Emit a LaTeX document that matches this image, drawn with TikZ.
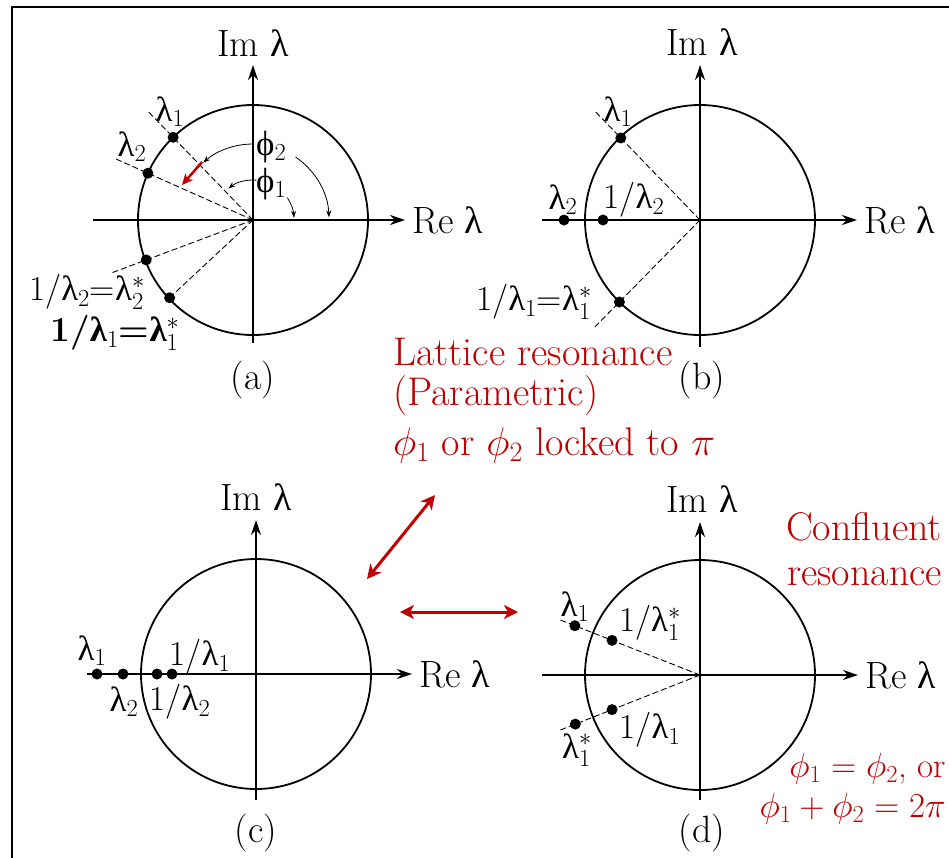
\RequirePackage{fix-cm}
\documentclass[tikz,border=0pt]{standalone}
\usepackage{fontspec}
\usetikzlibrary{arrows.meta}
\newfontfamily\grk{Liberation Serif}
\newcommand\glam{{\grk λ}}
\newcommand\gphi{{\grk ϕ}}
\definecolor{dred}{RGB}{192,0,0}
\begin{document}
\begin{tikzpicture}[x=1pt,y=-1pt,
  lbl/.style={font=\fontsize{35}{39}\selectfont, inner sep=0pt},
  axl/.style={font=\fontsize{38}{42}\selectfont, inner sep=0pt},
  rtxt/.style={font=\fontsize{40}{44}\selectfont, text=dred, inner sep=0pt, anchor=base west},
  reqn/.style={font=\fontsize{35}{39}\selectfont, text=dred, inner sep=0pt, anchor=base east},
  dot/.style={circle, fill=black, minimum size=11pt, inner sep=0pt},
  axis/.style={line width=1.4pt, -{Stealth[length=15pt,width=10pt]}},
  ucirc/.style={line width=1.8pt},
  ray/.style={line width=0.9pt, dash pattern=on 6pt off 3pt},
  redarr/.style={dred, line width=3pt, {Stealth[length=14pt,width=14pt,inset=4pt]}-{Stealth[length=14pt,width=14pt,inset=4pt]}},
  redone/.style={dred, line width=2.5pt, -{Stealth[length=11pt,width=10pt,inset=3pt]}},
  angarr/.style={line width=0.8pt, -{Stealth[length=7pt,width=5pt]}},
]
\useasboundingbox (0,0) rectangle (949,857);
\clip (0,0) rectangle (949,857);
\draw[line width=2pt] (12,7) rectangle (1000,900);

% ---------- panel (a)
\begin{scope}[shift={(253,220)}, y=1pt]
  \coordinate (aO) at (0,0);
  \coordinate (aW) at (-160,0); \coordinate (aE) at (152,0);
  \coordinate (aS) at (0,-123); \coordinate (aN) at (0,155);
  \draw[ucirc] (aO) circle (115);
  \draw[axis] (aW) -- (aE);
  \draw[axis] (aS) -- (aN);
  \node[axl, anchor=west] (aRe) at ([xshift=7pt]aE) {Re \glam};
  \node[axl] (aIm) at (0,177) {Im \glam};
  \coordinate (a1e) at (134:150);
  \coordinate (a2e) at (156:153);
  \coordinate (a2se) at (-159.5:152);
  \draw[ray] (aO) -- (a1e);
  \draw[ray] (aO) -- (a2e);
  \draw[ray] (aO) -- (a2se);
  \node[dot] (al1) at (134:115) {};
  \node[dot] (al2) at (156:115) {};
  \node[dot] (al2s) at (-159.5:114) {};
  \node[dot] (al1s) at (-137:114) {};
  \draw[ray] (aO) -- (al1s);
  \node[lbl] (tal1) at (-83,108) {\glam$_1$};
  \node[lbl] (tal2) at (-121,73) {\glam$_2$};
  \node[lbl] (tal2s) at (-166,-72) {1/\glam$_2$=\glam$^*_2$};
  \node[lbl] (tal1s) at (-138,-113) {\bfseries 1/{\grk\bfseries λ}$_1$=\glam$^*_1$};
  \node[lbl, anchor=west] (tphi2) at (3,73) {\gphi$_2$};
  \node[lbl, anchor=west] (tphi1) at (3,36) {\gphi$_1$};
  \draw[angarr] (89:76) arc (89:131:76);
  \draw[angarr] (56:76) arc (56:2:76);
  \draw[angarr] (85:40) arc (85:128:40);
  \draw[angarr] (33:41) arc (33:3:41);
  \coordinate (ra1) at (-51,58); \coordinate (ra2) at (-71,35);
  \draw[redone] (ra1) -- (ra2);
  \node[axl] (capa) at (0,-160) {(a)};
\end{scope}

% ---------- panel (b)
\begin{scope}[shift={(700,220)}, y=1pt]
  \coordinate (bO) at (0,0);
  \coordinate (bW) at (-158,0); \coordinate (bE) at (157,0);
  \coordinate (bS) at (0,-127); \coordinate (bN) at (0,155);
  \draw[ucirc] (bO) circle (115);
  \draw[axis] (bW) -- (bE);
  \draw[axis] (bS) -- (bN);
  \node[axl, anchor=west] (bRe) at ([xshift=7pt]bE) {Re \glam};
  \node[axl] (bIm) at (2,178) {Im \glam};
  \coordinate (b1e) at (134:151);
  \coordinate (b1se) at (-134.5:151);
  \draw[ray] (bO) -- (b1e);
  \draw[ray] (bO) -- (b1se);
  \node[dot] (bl1) at (134:114) {};
  \node[dot] (bl1s) at (-134.5:115) {};
  \node[dot] (bl2) at (-136,0) {};
  \node[dot] (bl2i) at (-97,0) {};
  \node[lbl] (tbl1) at (-82,108) {\glam$_1$};
  \node[lbl] (tbl2) at (-137,20) {\glam$_2$};
  \node[lbl] (tbl2i) at (-66,20) {1/\glam$_2$};
  \node[lbl] (tbl1s) at (-166,-82) {1/\glam$_1$=\glam$^*_1$};
  \node[axl] (capb) at (2,-160) {(b)};
\end{scope}

% ---------- panel (c)
\begin{scope}[shift={(256,674)}, y=1pt]
  \coordinate (cO) at (0,0);
  \coordinate (cW) at (-169,0); \coordinate (cE) at (156,0);
  \coordinate (cS) at (0,-126); \coordinate (cN) at (0,154);
  \draw[ucirc] (cO) circle (115);
  \draw[axis] (cW) -- (cE);
  \draw[axis] (cS) -- (cN);
  \node[axl, anchor=west] (cRe) at ([xshift=7pt]cE) {Re \glam};
  \node[axl] (cIm) at (0,177) {Im \glam};
  \node[dot] (cl1) at (-159,0) {};
  \node[dot] (cl2) at (-133,0) {};
  \node[dot] (cl2i) at (-99,0) {};
  \node[dot] (cl1i) at (-84,0) {};
  \node[lbl] (tcl1) at (-164,23) {\glam$_1$};
  \node[lbl] (tcl1i) at (-56,17) {1/\glam$_1$};
  \node[lbl] (tcl2) at (-132,-28) {\glam$_2$};
  \node[lbl] (tcl2i) at (-76,-28) {1/\glam$_2$};
  \node[axl] (capc) at (0,-159) {(c)};
\end{scope}

% ---------- panel (d)
\begin{scope}[shift={(700,675)}, y=1pt]
  \coordinate (dO) at (0,0);
  \coordinate (dW) at (-158,0); \coordinate (dE) at (158,0);
  \coordinate (dS) at (0,-125); \coordinate (dN) at (0,153);
  \draw[ucirc] (dO) circle (115);
  \draw[axis] (dW) -- (dE);
  \draw[axis] (dS) -- (dN);
  \node[axl, anchor=west] (dRe) at ([xshift=7pt]dE) {Re \glam};
  \node[axl] (dIm) at (2,176) {Im \glam};
  \coordinate (d1e) at (158.5:151);
  \coordinate (d1se) at (-158.5:151);
  \draw[ray] (dO) -- (d1e);
  \draw[ray] (dO) -- (d1se);
  \node[dot] (dl1) at (158.5:134.5) {};
  \node[dot] (dl1si) at (158.5:94.5) {};
  \node[dot] (dl1s) at (-158.5:134) {};
  \node[dot] (dl1i) at (-158.5:94.5) {};
  \node[lbl] (tdl1) at (-125,68) {\glam$_1$};
  \node[lbl] (tdl1si) at (-50,52) {1/\glam$^*_1$};
  \node[lbl] (tdl1i) at (-50,-55) {1/\glam$_1$};
  \node[lbl] (tdl1s) at (-123,-75) {\glam$^*_1$};
  \node[axl] (capd) at (2,-158) {(d)};
\end{scope}

% ---------- red annotations
\coordinate (r1a) at (435,495); \coordinate (r1b) at (367,579);
\coordinate (r2a) at (400,612); \coordinate (r2b) at (518,612);
\draw[redarr] (r1a) -- (r1b);
\draw[redarr] (r2a) -- (r2b);
\node[rtxt] (lat) at (393,365) {Lattice resonance};
\node[rtxt] (par) at (393,405) {(Parametric)};
\node[rtxt] (lock) at (393,455) {$\phi_1$ or $\phi_2$ locked to $\pi$};
\node[rtxt] (conf) at (786,540) {Confluent};
\node[rtxt] (res) at (787,585) {resonance};
\node[reqn] (eq1) at (946,777) {$\phi_1=\phi_2$, or};
\node[reqn] (eq2) at (946,817) {$\phi_1+\phi_2=2\pi$};
\end{tikzpicture}
\end{document}
